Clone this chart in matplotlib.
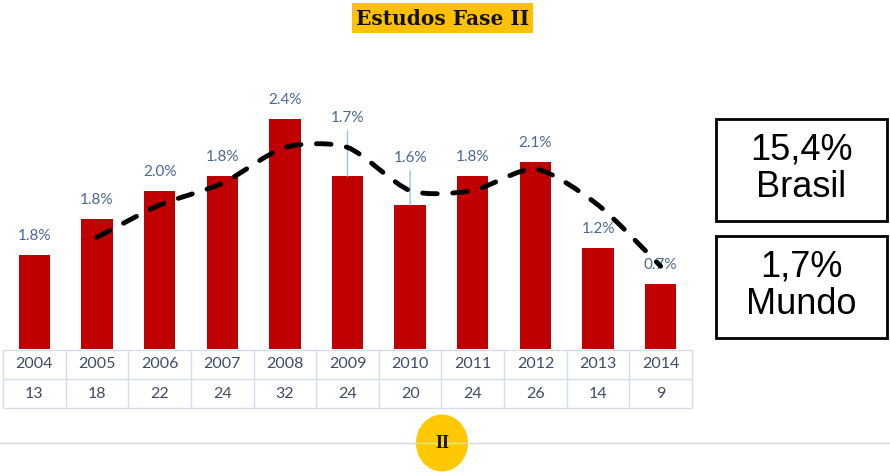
import numpy as np
import matplotlib.pyplot as plt
from matplotlib.path import Path
from matplotlib.patches import PathPatch, Rectangle, Ellipse
from matplotlib.lines import Line2D

plt.rcParams['font.family'] = ['Lato', 'DejaVu Sans']

# data
years = ['2004', '2005', '2006', '2007', '2008', '2009', '2010', '2011', '2012', '2013', '2014']
studies = [13, 18, 22, 24, 32, 24, 20, 24, 26, 14, 9]
share = [1.8, 1.8, 2.0, 1.8, 2.4, 1.7, 1.6, 1.8, 2.1, 1.2, 0.7]
# 2-period moving average trendline, starts at 2005
trend = [15.5, 20, 23, 28, 28, 22, 22, 25, 20, 11.5]
brasil = '15,4%'
mundo = '1,7%'

W, H = 890, 476
fig = plt.figure(figsize=(W / 100, H / 100), dpi=100)


def frac(x0, y0, x1, y1):
    # pixel box (top-left origin) -> figure fraction rect
    return [x0 / W, 1 - y1 / H, (x1 - x0) / W, (y1 - y0) / H]


red = '#C00000'
label_col = '#4A6894'
table_col = '#3E4C66'
grid_col = '#D6DDEA'

# bars
ax = fig.add_axes(frac(3, 80, 692, 349))
x = np.arange(len(years))
ax.bar(x, studies, width=0.5, color=red, zorder=2)
ax.set_xlim(-0.5, len(years) - 0.5)
ax.set_ylim(0, 269 / 7.2)
ax.axis('off')

# percentage labels (two of them sit higher with a leader line)
raised = {5: 58, 6: 47}
for i, (v, s) in enumerate(zip(studies, share)):
    off = raised.get(i, 19)
    arrow = None
    if i in raised:
        arrow = dict(arrowstyle='-', color='#9DC3E6', lw=1, shrinkA=2, shrinkB=0)
    ax.annotate(f'{s:.1f}%', xy=(i, v), xytext=(0, off), textcoords='offset pixels',
                ha='center', va='center', fontsize=11, color=label_col,
                arrowprops=arrow, zorder=3, annotation_clip=False)

# smoothed dashed trendline (cubic Bezier through the points)
tx = x[1:].astype(float)
pts = np.column_stack([tx, trend])
verts = [pts[0]]
codes = [Path.MOVETO]
n = len(pts)
for i in range(n - 1):
    p0 = pts[max(i - 1, 0)]
    p1 = pts[i]
    p2 = pts[i + 1]
    p3 = pts[min(i + 2, n - 1)]
    verts += [p1 + (p2 - p0) / 8, p2 - (p3 - p1) / 8, p2]
    codes += [Path.CURVE4] * 3
ax.add_patch(PathPatch(Path(verts, codes), fill=False, ec='black', lw=3.5,
                       ls=(0, (3.0, 3.2)), capstyle='round', zorder=4))

# data table under the bars
tab = fig.add_axes(frac(3, 350, 692, 408))
tab.set_xlim(-0.5, len(years) - 0.5)
tab.set_ylim(0, 2)
tab.axis('off')
tab.vlines(np.arange(-0.5, len(years)), 0, 2, color=grid_col, lw=1, clip_on=False)
tab.hlines([0, 1, 2], -0.5, len(years) - 0.5, color=grid_col, lw=1, clip_on=False)
for i, (yr, c) in enumerate(zip(years, studies)):
    tab.text(i, 1.5, yr, ha='center', va='center', fontsize=11.5, color=table_col)
    tab.text(i, 0.5, str(c), ha='center', va='center', fontsize=11.5, color=table_col)

# side boxes
for (y0, y1), big, small in [((119, 221), brasil, 'Brasil'), ((236, 338), mundo, 'Mundo')]:
    r = frac(716, y0, 887, y1)
    fig.add_artist(Rectangle((r[0], r[1]), r[2], r[3], transform=fig.transFigure,
                             fc='white', ec='black', lw=2))
    cx = (716 + 887) / 2 / W
    fig.text(cx, 1 - (y0 + 31) / H, big, ha='center', va='center', fontsize=26,
             family='Liberation Sans')
    fig.text(cx, 1 - (y0 + 69) / H, small, ha='center', va='center', fontsize=26,
             family='Liberation Sans')

# title with yellow highlight
r = frac(352, 3, 533, 33)
fig.add_artist(Rectangle((r[0], r[1]), r[2], r[3], transform=fig.transFigure,
                         fc='#FFC000', ec='none'))
fig.text(442.5 / W, 1 - 19 / H, 'Estudos Fase II', ha='center', va='center',
         fontsize=14.5, fontweight='bold', family='DejaVu Serif', color='#111111')

# bottom separator and page marker
fig.add_artist(Line2D([0, 1], [1 - 443 / H] * 2, transform=fig.transFigure,
                      color='#D9D9D9', lw=1))
fig.add_artist(Ellipse((442 / W, 1 - 443 / H), 52 / W, 57 / H, transform=fig.transFigure,
                       fc='#FFC800', ec='none'))
fig.text(442 / W, 1 - 443 / H, 'II', ha='center', va='center', fontsize=13,
         fontweight='bold', family='Liberation Serif', color='#111111')

fig.savefig('out.png', dpi=100)
